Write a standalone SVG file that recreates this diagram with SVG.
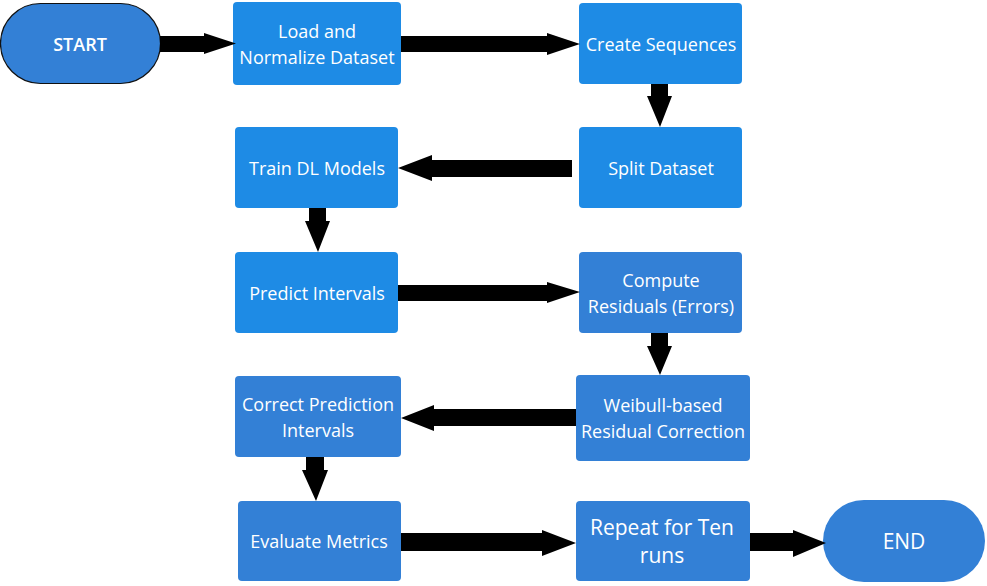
<svg xmlns="http://www.w3.org/2000/svg" width="987" height="586" viewBox="0 0 987 586">
<style>
.b1{fill:#1e8be5;}
.b2{fill:#3380d6;}
.t{font-family:"Open Sans","Noto Sans",sans-serif;font-size:18px;fill:#ffffff;text-anchor:middle;dominant-baseline:central;}
.big{font-size:21px;}
.a{fill:#000000;}
</style>
<rect width="987" height="586" fill="#ffffff"/>
<g id="start"><rect x="0.5" y="3.5" width="160" height="80" rx="40" class="b2" stroke="#111" stroke-width="1.2"/><text class="t" x="80" y="44" font-weight="600" font-size="21">START</text></g>
<g id="load"><rect x="233" y="2" width="168" height="83" rx="4" class="b1"/><text class="t" x="317" y="31">Load and</text><text class="t" x="317" y="57">Normalize Dataset</text></g>
<g id="create"><rect x="579" y="3" width="163" height="81" rx="4" class="b1"/><text class="t" x="661" y="44">Create Sequences</text></g>
<g id="split"><rect x="579" y="127" width="163" height="81" rx="4" class="b1"/><text class="t" x="661" y="168">Split Dataset</text></g>
<g id="train"><rect x="235" y="127" width="163" height="81" rx="4" class="b1"/><text class="t" x="317" y="168">Train DL Models</text></g>
<g id="predict"><rect x="235" y="252" width="163" height="81" rx="4" class="b1"/><text class="t" x="317" y="293">Predict Intervals</text></g>
<g id="compute"><rect x="579" y="252" width="163" height="81" rx="4" class="b2"/><text class="t" x="661" y="280">Compute</text><text class="t" x="661" y="306">Residuals (Errors)</text></g>
<g id="weibull"><rect x="576" y="375" width="174" height="86" rx="4" class="b2"/><text class="t" x="663" y="405">Weibull-based</text><text class="t" x="663" y="431">Residual Correction</text></g>
<g id="correct"><rect x="235" y="376" width="166" height="81" rx="4" class="b2"/><text class="t" x="318" y="404">Correct Prediction</text><text class="t" x="318" y="430">Intervals</text></g>
<g id="evaluate"><rect x="238" y="501" width="163" height="80" rx="4" class="b2"/><text class="t" x="319" y="541">Evaluate Metrics</text></g>
<g id="repeat"><rect x="576" y="501" width="174" height="80" rx="4" class="b2"/><text class="t big" x="662" y="527">Repeat for Ten</text><text class="t big" x="662" y="555">runs</text></g>
<g id="end"><rect x="823" y="500" width="162" height="82" rx="41" class="b2"/><text class="t big" x="904" y="541">END</text></g>
<g id="connectors">
<polygon class="a" points="160,36 204,36 204,33 236,43.5 204,54 204,52 160,52"/>
<polygon class="a" points="401,36 547,36 547,33 580,44 547,55 547,52 401,52"/>
<polygon class="a" points="651,84 668,84 668,96 672,96 660,127 647,96 651,96"/>
<polygon class="a" points="572,160 432,160 432,155 398,168 432,181 432,177 572,177"/>
<polygon class="a" points="309,208 326,208 326,221 330,221 318,252 305,221 309,221"/>
<polygon class="a" points="398,285 547,285 547,282 580,292 547,303 547,301 398,301"/>
<polygon class="a" points="651,333 668,333 668,346 672,346 660,375 647,346 651,346"/>
<polygon class="a" points="576,409 434,409 434,405 401,418 434,431 434,426 576,426"/>
<polygon class="a" points="306,457 324,457 324,470 328,470 316,501 302,470 306,470"/>
<polygon class="a" points="401,533 542,533 542,530 576,543 542,556 542,551 401,551"/>
<polygon class="a" points="750,533 793,533 793,530 826,543 793,557 793,551 750,551"/>
</g>
</svg>
